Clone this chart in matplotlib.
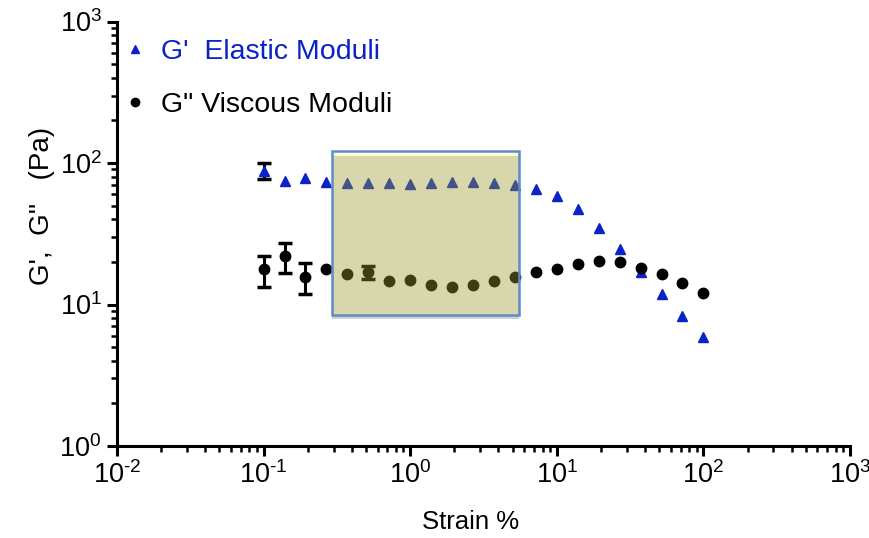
import matplotlib
matplotlib.use("Agg")
import matplotlib.pyplot as plt
import matplotlib.patches as mpatches
from matplotlib.lines import Line2D
from matplotlib.ticker import LogLocator, NullFormatter, FuncFormatter
import numpy as np

plt.rcParams['font.family'] = ['Liberation Sans', 'DejaVu Sans']
plt.rcParams['mathtext.fontset'] = 'custom'
plt.rcParams['mathtext.rm'] = 'Liberation Sans'
plt.rcParams['mathtext.it'] = 'Liberation Sans'

# ---- data ----
strain = [0.1, 0.139, 0.193, 0.268, 0.373, 0.518, 0.72, 1.0, 1.39, 1.93, 2.68,
          3.73, 5.18, 7.2, 10.0, 13.9, 19.3, 26.8, 37.3, 51.8, 72.0, 100.0]
g_elastic = [88.2, 75.0, 78.3, 73.8, 72.6, 71.9, 71.9, 71.1, 71.9, 73.8, 73.8,
             72.6, 69.9, 65.2, 58.4, 47.3, 34.6, 24.7, 17.1, 11.9, 8.29, 5.87]
g_viscous = [17.7, 22.0, 15.7, 17.7, 16.3, 17.0, 14.7, 14.8, 13.7, 13.2, 13.7,
             14.6, 15.6, 16.9, 17.8, 19.4, 20.4, 19.9, 18.2, 16.3, 14.1, 12.1]

# error bars (low / high bounds)
ge_err_x = [0.1]
ge_err_val = [88.2]
ge_err_low = [76.7]
ge_err_high = [100.5]

gv_err_x = [0.1, 0.139, 0.193, 0.518]
gv_err_val = [17.7, 22.0, 15.7, 17.0]
gv_err_low = [13.4, 16.8, 11.9, 15.1]
gv_err_high = [22.0, 27.1, 19.5, 18.7]

# highlighted region (strain range, modulus range)
box_x = [0.293, 5.52]
box_y = [8.47, 121.6]

legend_labels = ["G'  Elastic Moduli", 'G" Viscous Moduli']
xlabel = "Strain %"
ylabel = "G',  G''   (Pa)"

# ---- figure ----
fig = plt.figure(figsize=(8.7, 5.38), dpi=100)
ax = fig.add_axes([0.1345, 0.171, 0.977 - 0.1345, 0.960 - 0.171])
ax.set_xscale('log')
ax.set_yscale('log')
ax.set_xlim(1e-2, 1e3)
ax.set_ylim(1e0, 1e3)

blue = '#0a22c8'

ax.plot(strain, g_elastic, linestyle='none', marker='^', color=blue,
        markersize=7, zorder=3)
ax.plot(strain, g_viscous, linestyle='none', marker='o', color='black',
        markersize=7.5, zorder=3)

def yerr(vals, lo, hi):
    v = np.array(vals); return [v - np.array(lo), np.array(hi) - v]

ax.errorbar(ge_err_x, ge_err_val, yerr=yerr(ge_err_val, ge_err_low, ge_err_high),
            fmt='none', ecolor='black', elinewidth=2.2, capsize=5, capthick=2.5, zorder=2)
ax.errorbar(gv_err_x, gv_err_val, yerr=yerr(gv_err_val, gv_err_low, gv_err_high),
            fmt='none', ecolor='black', elinewidth=2.2, capsize=5, capthick=2.5, zorder=2)

# highlighted box
shadow = mpatches.Rectangle((box_x[0], box_y[0] * 0.93), box_x[1] - box_x[0],
                            box_y[0] * 0.07, facecolor='#d0d0d0', edgecolor='none',
                            zorder=3.5)
ax.add_patch(shadow)
box = mpatches.Rectangle((box_x[0], box_y[0]), box_x[1] - box_x[0], box_y[1] - box_y[0],
                         facecolor='#9d9b2f', alpha=0.4, edgecolor='none', zorder=4)
ax.add_patch(box)
strip = mpatches.Rectangle((box_x[0], box_y[1] * 0.92), box_x[1] - box_x[0],
                           box_y[1] * 0.08, facecolor='#fffbd2', edgecolor='none',
                           zorder=4.2)
ax.add_patch(strip)
border = mpatches.Rectangle((box_x[0], box_y[0]), box_x[1] - box_x[0], box_y[1] - box_y[0],
                            facecolor='none', edgecolor='#5a8ccc', linewidth=1.8, zorder=5)
ax.add_patch(border)

# axes styling
for s in ['top', 'right']:
    ax.spines[s].set_visible(False)
for s in ['left', 'bottom']:
    ax.spines[s].set_linewidth(2.2)
    ax.spines[s].set_color('black')

ax.xaxis.set_major_locator(LogLocator(base=10, numticks=10))
ax.yaxis.set_major_locator(LogLocator(base=10, numticks=10))
ax.xaxis.set_minor_locator(LogLocator(base=10, subs=np.arange(2, 10), numticks=20))
ax.yaxis.set_minor_locator(LogLocator(base=10, subs=np.arange(2, 10), numticks=20))
ax.xaxis.set_minor_formatter(NullFormatter())
ax.yaxis.set_minor_formatter(NullFormatter())

def fmt(v, pos):
    e = int(round(np.log10(v)))
    return r'$\mathregular{10^{\text{%d}}}$' % e
ax.xaxis.set_major_formatter(FuncFormatter(fmt))
ax.yaxis.set_major_formatter(FuncFormatter(fmt))

ax.tick_params(which='major', direction='out', length=7, width=2.2, labelsize=19.5,
               pad=4)
ax.tick_params(which='minor', direction='out', length=4, width=1.8)

ax.set_xlabel(xlabel, fontsize=18.5)
ax.set_ylabel(ylabel, fontsize=20)
ax.xaxis.set_label_coords(0.483, -0.15)
ax.yaxis.set_label_coords(-0.085, 0.565)

handles = [Line2D([], [], linestyle='none', marker='^', color=blue, markersize=6),
           Line2D([], [], linestyle='none', marker='o', color='black', markersize=6)]
leg = ax.legend(handles, legend_labels, loc='upper left', bbox_to_anchor=(-0.03, 1.02),
                frameon=False, fontsize=20.5, handletextpad=0.4, labelspacing=0.95,
                handlelength=1.0)
leg.get_texts()[0].set_color(blue)

fig.savefig('out.png', dpi=100)
